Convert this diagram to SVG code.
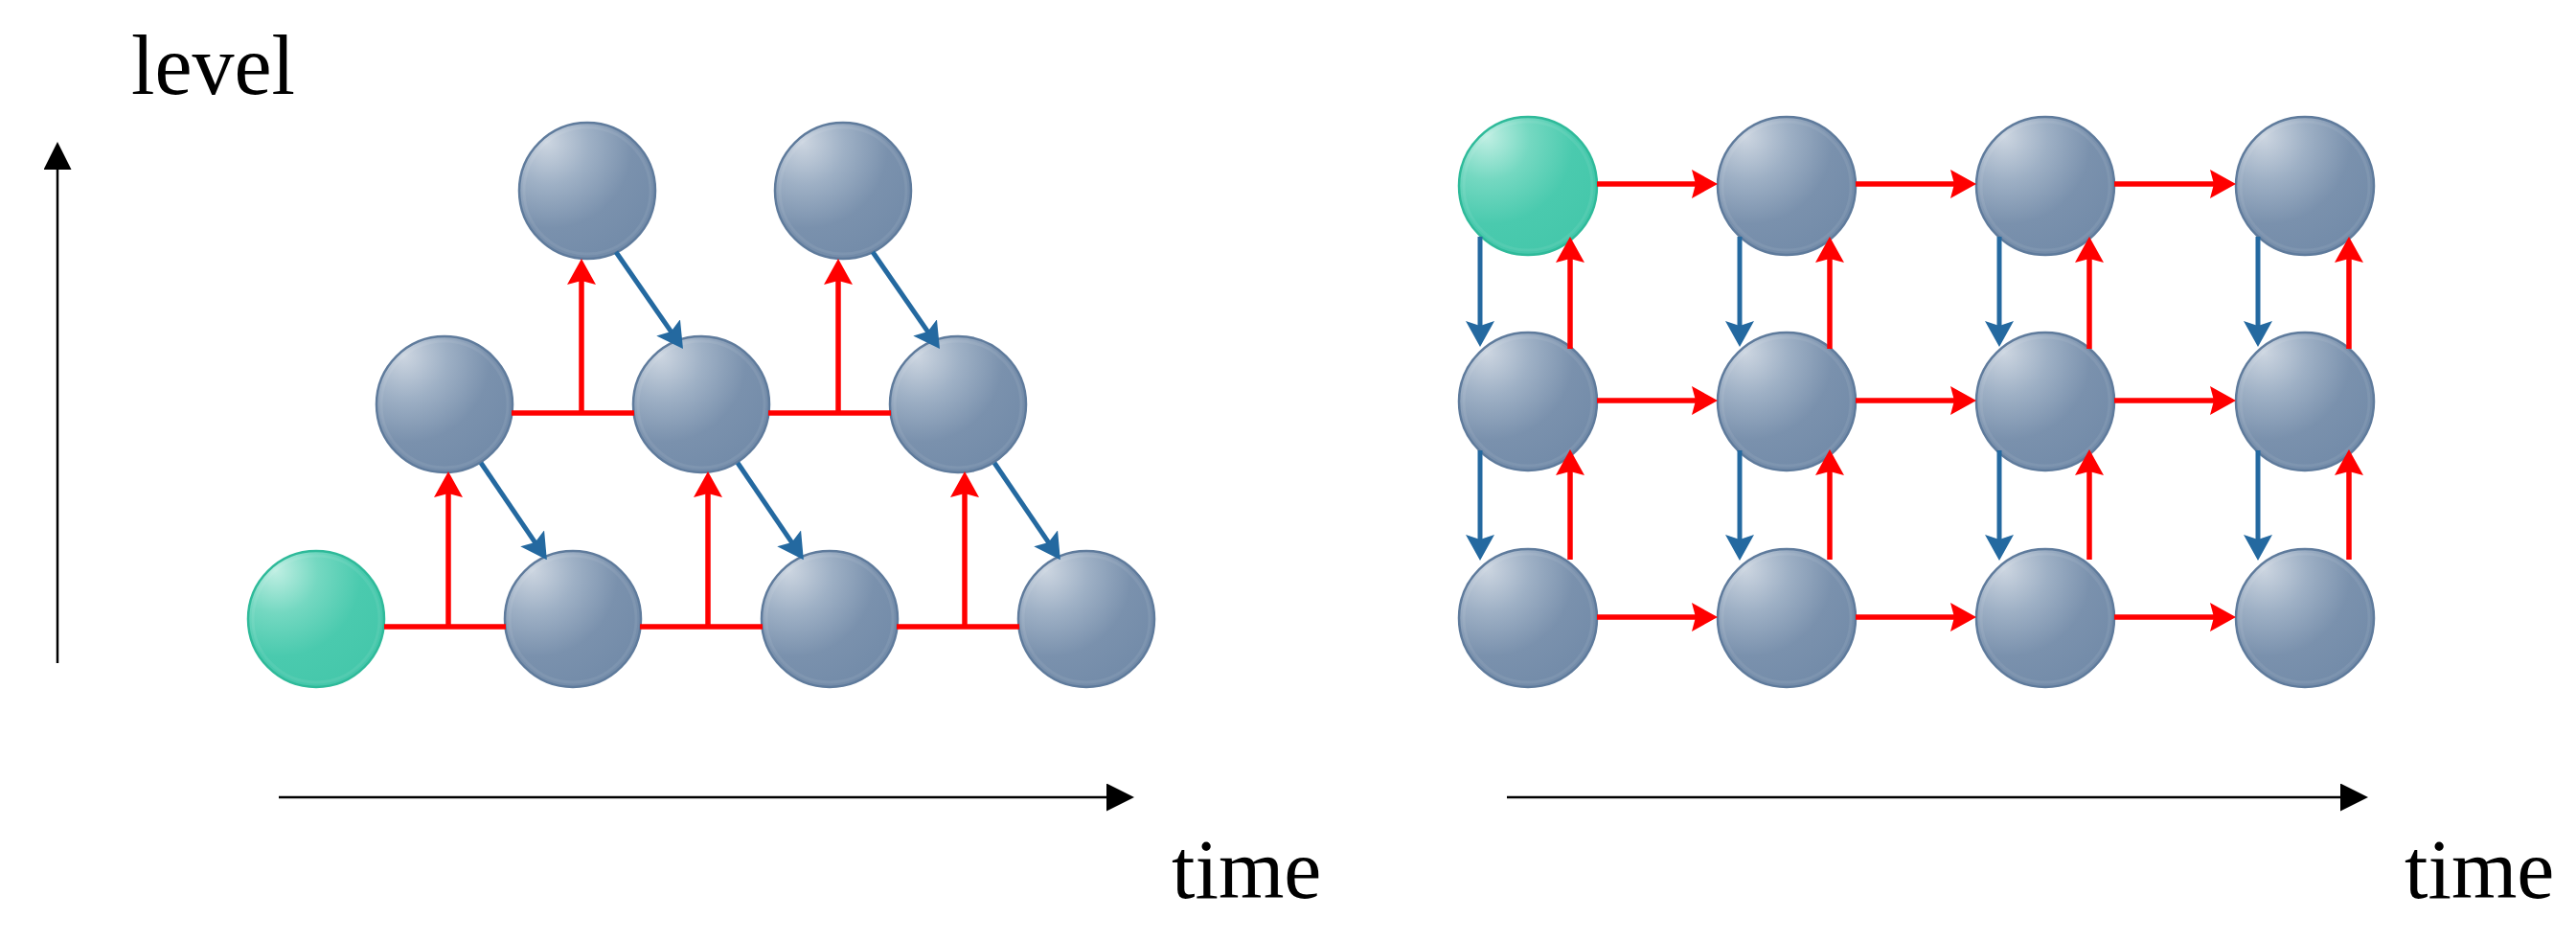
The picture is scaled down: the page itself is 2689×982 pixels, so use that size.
<svg xmlns="http://www.w3.org/2000/svg" width="2689" height="982" viewBox="0 0 2689 982">
<style>
.txt{font-family:"Liberation Serif","Times New Roman",serif;font-size:88px;fill:#000}
.node{fill:url(#gBlue);stroke:#5f7b9c;stroke-width:2.5}
.start{fill:url(#gGreen);stroke:#2fba9a;stroke-width:2.5}
.rim{fill:none;stroke:#ffffff;stroke-opacity:0.07;stroke-width:3}
.red{stroke:#ff0000;stroke-width:5.5;fill:none}
.redA{stroke:#ff0000;stroke-width:5.5;fill:none;marker-end:url(#mRed)}
.blueA{stroke:#2469a0;stroke-width:5;fill:none;marker-end:url(#mBlue)}
.axis{stroke:#000;stroke-width:2.5;fill:none;marker-end:url(#mBlack)}
</style>
<defs>
<radialGradient id="gBlue" cx="0.25" cy="0.2" r="1" fx="0.2" fy="0.14">
<stop offset="0" stop-color="#cdd6e1"/>
<stop offset="0.3" stop-color="#9eb0c5"/>
<stop offset="0.6" stop-color="#7a91ad"/>
<stop offset="1" stop-color="#7089a7"/>
</radialGradient>
<radialGradient id="gGreen" cx="0.25" cy="0.2" r="1" fx="0.2" fy="0.14">
<stop offset="0" stop-color="#c0efe3"/>
<stop offset="0.3" stop-color="#74d8c1"/>
<stop offset="0.6" stop-color="#4acaae"/>
<stop offset="1" stop-color="#43c6a9"/>
</radialGradient>
<marker id="mRed" markerUnits="userSpaceOnUse" viewBox="0 0 27 30" markerWidth="27" markerHeight="30" refX="6" refY="15" orient="auto">
<path d="M0,0 L27,15 L0,30 L4,15 z" fill="#ff0000"/>
</marker>
<marker id="mBlue" markerUnits="userSpaceOnUse" viewBox="0 0 27 30" markerWidth="27" markerHeight="30" refX="7" refY="15" orient="auto">
<path d="M0,0 L27,15 L0,30 L5,15 z" fill="#2469a0"/>
</marker>
<marker id="mBlack" markerUnits="userSpaceOnUse" viewBox="0 0 29 29" markerWidth="29" markerHeight="29" refX="2" refY="14.5" orient="auto">
<path d="M0,0 L29,14.5 L0,29 z" fill="#000"/>
</marker>
</defs>

<g id="axes">
<line class="axis" x1="60" y1="692" x2="60" y2="175"/>
<line class="axis" x1="291" y1="832" x2="1157" y2="832"/>
<line class="axis" x1="1573" y1="832" x2="2445" y2="832"/>
</g>
<g id="labels">
<text class="txt" x="137" y="98">level</text>
<text class="txt" x="1223" y="937">time</text>
<text class="txt" x="2510" y="937">time</text>
</g>

<g id="left-nodes">
<g id="L-b0"><circle class="start" cx="330" cy="646" r="71"/><circle class="rim" cx="330" cy="646" r="66"/></g>
<g id="L-b1"><circle class="node" cx="598" cy="646" r="71"/><circle class="rim" cx="598" cy="646" r="66"/></g>
<g id="L-b2"><circle class="node" cx="866" cy="646" r="71"/><circle class="rim" cx="866" cy="646" r="66"/></g>
<g id="L-b3"><circle class="node" cx="1134" cy="646" r="71"/><circle class="rim" cx="1134" cy="646" r="66"/></g>
<g id="L-m1"><circle class="node" cx="464" cy="422" r="71"/><circle class="rim" cx="464" cy="422" r="66"/></g>
<g id="L-m2"><circle class="node" cx="732" cy="422" r="71"/><circle class="rim" cx="732" cy="422" r="66"/></g>
<g id="L-m3"><circle class="node" cx="1000" cy="422" r="71"/><circle class="rim" cx="1000" cy="422" r="66"/></g>
<g id="L-t1"><circle class="node" cx="613" cy="199" r="71"/><circle class="rim" cx="613" cy="199" r="66"/></g>
<g id="L-t2"><circle class="node" cx="880" cy="199" r="71"/><circle class="rim" cx="880" cy="199" r="66"/></g>
</g>

<g id="right-nodes">
<g id="R-00"><circle class="start" cx="1595" cy="194" r="72"/><circle class="rim" cx="1595" cy="194" r="67"/></g>
<g id="R-01"><circle class="node" cx="1865" cy="194" r="72"/><circle class="rim" cx="1865" cy="194" r="67"/></g>
<g id="R-02"><circle class="node" cx="2135" cy="194" r="72"/><circle class="rim" cx="2135" cy="194" r="67"/></g>
<g id="R-03"><circle class="node" cx="2406" cy="194" r="72"/><circle class="rim" cx="2406" cy="194" r="67"/></g>
<g id="R-10"><circle class="node" cx="1595" cy="419" r="72"/><circle class="rim" cx="1595" cy="419" r="67"/></g>
<g id="R-11"><circle class="node" cx="1865" cy="419" r="72"/><circle class="rim" cx="1865" cy="419" r="67"/></g>
<g id="R-12"><circle class="node" cx="2135" cy="419" r="72"/><circle class="rim" cx="2135" cy="419" r="67"/></g>
<g id="R-13"><circle class="node" cx="2406" cy="419" r="72"/><circle class="rim" cx="2406" cy="419" r="67"/></g>
<g id="R-20"><circle class="node" cx="1595" cy="645" r="72"/><circle class="rim" cx="1595" cy="645" r="67"/></g>
<g id="R-21"><circle class="node" cx="1865" cy="645" r="72"/><circle class="rim" cx="1865" cy="645" r="67"/></g>
<g id="R-22"><circle class="node" cx="2135" cy="645" r="72"/><circle class="rim" cx="2135" cy="645" r="67"/></g>
<g id="R-23"><circle class="node" cx="2406" cy="645" r="72"/><circle class="rim" cx="2406" cy="645" r="67"/></g>
</g>

<g id="connectors">
<line class="red" x1="401" y1="654" x2="528" y2="654"/>
<line class="red" x1="668" y1="654" x2="796" y2="654"/>
<line class="red" x1="936" y1="654" x2="1064" y2="654"/>
<line class="red" x1="534" y1="431" x2="662" y2="431"/>
<line class="red" x1="802" y1="431" x2="930" y2="431"/>
<line class="redA" x1="468" y1="654" x2="468" y2="513"/>
<line class="redA" x1="607" y1="431" x2="607" y2="291"/>
<line class="redA" x1="739" y1="654" x2="739" y2="513"/>
<line class="redA" x1="875" y1="431" x2="875" y2="291"/>
<line class="redA" x1="1007" y1="654" x2="1007" y2="513"/>
<line class="blueA" x1="643" y1="263" x2="701.6" y2="347.6"/>
<line class="blueA" x1="911" y1="263" x2="969.6" y2="347.6"/>
<line class="blueA" x1="502" y1="483" x2="559.6" y2="567.6"/>
<line class="blueA" x1="770" y1="483" x2="827.6" y2="567.6"/>
<line class="blueA" x1="1038" y1="483" x2="1095.6" y2="567.6"/>
<line class="redA" x1="1667" y1="192" x2="1772" y2="192"/>
<line class="redA" x1="1937" y1="192" x2="2042" y2="192"/>
<line class="redA" x1="2207" y1="192" x2="2313" y2="192"/>
<line class="redA" x1="1667" y1="418" x2="1772" y2="418"/>
<line class="redA" x1="1937" y1="418" x2="2042" y2="418"/>
<line class="redA" x1="2207" y1="418" x2="2313" y2="418"/>
<line class="redA" x1="1667" y1="644" x2="1772" y2="644"/>
<line class="redA" x1="1937" y1="644" x2="2042" y2="644"/>
<line class="redA" x1="2207" y1="644" x2="2313" y2="644"/>
<line class="blueA" x1="1545" y1="247" x2="1545" y2="342"/>
<line class="blueA" x1="1545" y1="470" x2="1545" y2="565"/>
<line class="blueA" x1="1816" y1="247" x2="1816" y2="342"/>
<line class="blueA" x1="1816" y1="470" x2="1816" y2="565"/>
<line class="blueA" x1="2087" y1="247" x2="2087" y2="342"/>
<line class="blueA" x1="2087" y1="470" x2="2087" y2="565"/>
<line class="blueA" x1="2357" y1="247" x2="2357" y2="342"/>
<line class="blueA" x1="2357" y1="470" x2="2357" y2="565"/>
<line class="redA" x1="1639" y1="364" x2="1639" y2="268"/>
<line class="redA" x1="1639" y1="584" x2="1639" y2="490"/>
<line class="redA" x1="1910" y1="364" x2="1910" y2="268"/>
<line class="redA" x1="1910" y1="584" x2="1910" y2="490"/>
<line class="redA" x1="2181" y1="364" x2="2181" y2="268"/>
<line class="redA" x1="2181" y1="584" x2="2181" y2="490"/>
<line class="redA" x1="2452" y1="364" x2="2452" y2="268"/>
<line class="redA" x1="2452" y1="584" x2="2452" y2="490"/>
</g>
</svg>
